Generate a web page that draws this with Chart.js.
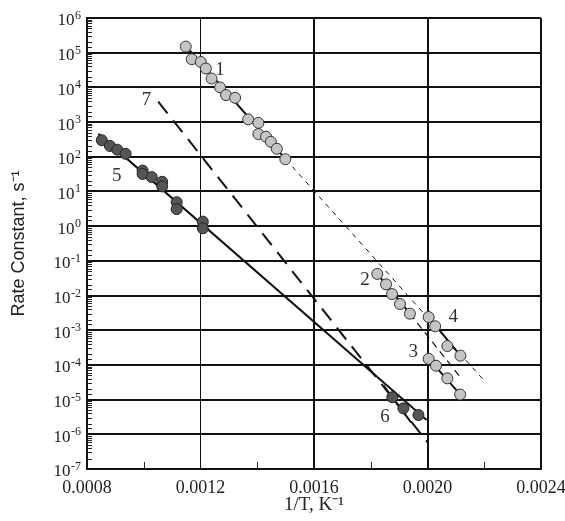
<!DOCTYPE html>
<html>
<head>
<meta charset="utf-8">
<script src="https://cdn.jsdelivr.net/npm/chart.js@4/dist/chart.umd.min.js"></script>
<style>
html, body { margin: 0; padding: 0; background: #fff; }
#wrap { width: 565px; height: 521px; }
</style>
</head>
<body>
<div id="wrap"><canvas id="rateChart"></canvas></div>
<script>
// Data (1/T in K^-1, rate constant in s^-1)
const s1X = [0.001148, 0.001169, 0.001201, 0.001219, 0.001239, 0.001269, 0.00129, 0.001322, 0.001368, 0.001404, 0.001404, 0.001431, 0.001448, 0.001469, 0.001499];
const s1Y = [1.5e5, 6.5e4, 5.4e4, 3.5e4, 1.8e4, 1.0e4, 6.0e3, 5.0e3, 1.2e3, 9.5e2, 4.5e2, 3.8e2, 2.7e2, 1.7e2, 85];
const s2X = [0.001823, 0.001854, 0.001875, 0.001903, 0.001938];
const s2Y = [0.042, 0.021, 0.011, 0.0057, 0.003];
const s3X = [0.002004, 0.00203, 0.00207, 0.002115];
const s3Y = [1.5e-4, 9.5e-5, 4.1e-5, 1.4e-5];
const s4X = [0.002004, 0.002027, 0.00207, 0.002116];
const s4Y = [2.4e-3, 1.3e-3, 3.5e-4, 1.85e-4];
const s5X = [0.000852, 0.000881, 0.000907, 0.000936, 0.000996, 0.000996, 0.001028, 0.001065, 0.001065, 0.001116, 0.001116, 0.001208, 0.001208];
const s5Y = [300, 205, 160, 122, 40, 32, 26, 19, 14, 4.9, 3.1, 1.35, 0.87];
const s6X = [0.001876, 0.001915, 0.001968];
const s6Y = [1.17e-5, 5.6e-6, 3.6e-6];

// fitted lines (end points)
const line1X = [0.00115, 0.0015],     line1Y = [1.5e5, 85];
const line1ExtX = [0.0015, 0.0022],   line1ExtY = [85, 3.5e-5];
const line2X = [0.001823, 0.001938],  line2Y = [0.042, 0.003];
const line2ExtX = [0.001938, 0.00212], line2ExtY = [0.003, 4e-5];
const line3X = [0.002004, 0.002116],  line3Y = [1.5e-4, 1.4e-5];
const line4X = [0.002004, 0.002116],  line4Y = [2.4e-3, 1.85e-4];
const line5X = [0.00084, 0.001997],   line5Y = [457, 2.6e-6];
const line6X = [0.001844, 0.001942],  line6Y = [2.6e-5, 2.2e-6];
const line7X = [0.001051, 0.002003],  line7Y = [3.9e3, 5.5e-7];

// axis ticks
const xMin = 0.0008, xMax = 0.0024, xStep = 0.0004;
const xMinorTicks = [0.0010, 0.0014, 0.0018, 0.0022];
const yMin = 1e-7, yMax = 1e6;

// curve numbers written on the plot
const curveLabels = [
    { text: '1', x: 0.001269, y: 3.2e4 },
    { text: '2', x: 0.00178, y: 0.028 },
    { text: '3', x: 0.00195, y: 2.4e-4 },
    { text: '4', x: 0.002091, y: 2.45e-3 },
    { text: '5', x: 0.000905, y: 28 },
    { text: '6', x: 0.00185, y: 3.2e-6 },
    { text: '7', x: 0.00101, y: 4.4e3 }
];

function pts(xs, ys) {
    return xs.map((x, i) => ({ x: x, y: ys[i] }));
}
function isDecade(v) {
    const e = Math.log10(v);
    return Math.abs(e - Math.round(e)) < 1e-6;
}
function near(a, b) {
    return Math.abs(a - b) < 1e-9;
}

const light = { backgroundColor: '#c4c4c4', borderColor: '#333', borderWidth: 1, pointRadius: 5.5, showLine: false, order: 0 };
const dark = { backgroundColor: '#555', borderColor: '#222', borderWidth: 1, pointRadius: 5.5, showLine: false, order: 0 };

function lineSet(xs, ys, width, dash) {
    return {
        data: pts(xs, ys),
        showLine: true,
        pointRadius: 0,
        borderColor: '#111',
        borderWidth: width,
        borderDash: dash || [],
        fill: false,
        order: 1
    };
}

const SERIF = '"Liberation Serif", "Times New Roman", serif';

// y tick labels as 10 with a raised exponent, minor ticks inside the frame, curve numbers
const extrasPlugin = {
    id: 'extras',
    afterDatasetsDraw(chart) {
        const ctx = chart.ctx;
        const xs = chart.scales.x, ys = chart.scales.y;
        const area = chart.chartArea;
        ctx.save();
        ctx.strokeStyle = '#222';
        ctx.lineWidth = 1;
        ys.ticks.forEach(t => {
            if (isDecade(t.value)) return;
            const py = Math.round(ys.getPixelForValue(t.value)) + 0.5;
            ctx.beginPath();
            ctx.moveTo(area.left, py);
            ctx.lineTo(area.left + 5, py);
            ctx.stroke();
        });
        xMinorTicks.forEach(v => {
            const px = Math.round(xs.getPixelForValue(v)) + 0.5;
            ctx.beginPath();
            ctx.moveTo(px, area.bottom);
            ctx.lineTo(px, area.bottom - 7);
            ctx.stroke();
        });

        // decade labels
        ctx.fillStyle = '#222';
        ys.ticks.forEach(t => {
            if (!isDecade(t.value)) return;
            const e = String(Math.round(Math.log10(t.value)));
            const py = ys.getPixelForValue(t.value);
            ctx.font = '12px ' + SERIF;
            const ew = ctx.measureText(e).width;
            const right = area.left - 6;
            ctx.textAlign = 'left';
            ctx.textBaseline = 'alphabetic';
            ctx.fillText(e, right - ew, py + 1);
            ctx.font = '17px ' + SERIF;
            ctx.textAlign = 'right';
            ctx.textBaseline = 'middle';
            ctx.fillText('10', right - ew - 0.5, py + 3);
        });

        ctx.fillStyle = '#333';
        ctx.font = '19px ' + SERIF;
        ctx.textAlign = 'center';
        ctx.textBaseline = 'middle';
        curveLabels.forEach(l => {
            ctx.fillText(l.text, xs.getPixelForValue(l.x), ys.getPixelForValue(l.y));
        });
        ctx.restore();
    }
};

const serif = { family: SERIF, size: 18 };

new Chart(document.getElementById('rateChart'), {
    type: 'scatter',
    data: {
        datasets: [
            Object.assign({ data: pts(s1X, s1Y) }, light),
            Object.assign({ data: pts(s2X, s2Y) }, light),
            Object.assign({ data: pts(s3X, s3Y) }, light),
            Object.assign({ data: pts(s4X, s4Y) }, light),
            Object.assign({ data: pts(s5X, s5Y) }, dark),
            Object.assign({ data: pts(s6X, s6Y) }, dark),
            lineSet(line1X, line1Y, 2),
            lineSet(line1ExtX, line1ExtY, 1, [5, 5]),
            lineSet(line2X, line2Y, 2),
            lineSet(line2ExtX, line2ExtY, 1.2, [7, 5]),
            lineSet(line3X, line3Y, 2),
            lineSet(line4X, line4Y, 2),
            lineSet(line5X, line5Y, 2),
            lineSet(line6X, line6Y, 2),
            lineSet(line7X, line7Y, 2, [15, 9])
        ]
    },
    options: {
        responsive: true,
        maintainAspectRatio: false,
        animation: false,
        layout: { padding: { top: 18, right: 24, left: 0, bottom: 0 } },
        plugins: {
            legend: { display: false },
            tooltip: { enabled: false }
        },
        scales: {
            x: {
                type: 'linear',
                min: xMin,
                max: xMax,
                afterFit: s => { s.height = 52; s.paddingLeft = 0; s.paddingRight = 0; },
                ticks: {
                    stepSize: xStep,
                    color: '#222',
                    font: serif,
                    padding: 8,
                    maxRotation: 0,
                    callback: v => v.toFixed(4)
                },
                grid: {
                    drawTicks: false,
                    color: '#111',
                    lineWidth: c => (c.tick && near(c.tick.value, 0.0012)) ? 1 : 2
                },
                border: { color: '#111', width: 2 },
                title: {
                    display: true,
                    text: '1/T, K\u207B\u00B9',
                    color: '#222',
                    font: { family: SERIF, size: 19 },
                    padding: { top: 0, bottom: 5 }
                }
            },
            y: {
                type: 'logarithmic',
                min: yMin,
                max: yMax,
                afterFit: s => { s.width = 87; s.paddingTop = 0; s.paddingBottom = 0; },
                ticks: {
                    autoSkip: false,
                    font: serif,
                    padding: 5,
                    callback: () => ''
                },
                grid: {
                    drawTicks: false,
                    color: c => (c.tick && isDecade(c.tick.value)) ? '#111' : 'rgba(0,0,0,0)',
                    lineWidth: 2
                },
                border: { color: '#111', width: 2 },
                title: {
                    display: true,
                    text: 'Rate Constant, s\u207B\u00B9',
                    color: '#222',
                    font: { family: '"Liberation Sans", Arial, sans-serif', size: 18 },
                    padding: { top: 8, bottom: 0 }
                }
            }
        }
    },
    plugins: [extrasPlugin]
});
</script>
</body>
</html>
